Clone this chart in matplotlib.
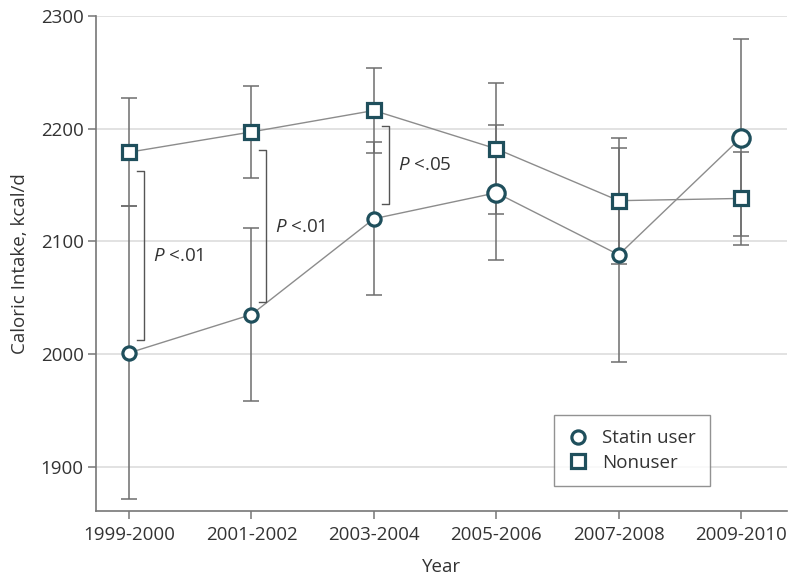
import matplotlib
matplotlib.use("Agg")
import matplotlib.pyplot as plt
import numpy as np

plt.rcParams['font.family'] = ['Open Sans', 'DejaVu Sans']
plt.rcParams['mathtext.fontset'] = 'custom'
plt.rcParams['mathtext.it'] = 'Open Sans:italic'
plt.rcParams['mathtext.rm'] = 'Open Sans'

years = ["1999-2000", "2001-2002", "2003-2004", "2005-2006", "2007-2008", "2009-2010"]
statin = [2001, 2035, 2120, 2143, 2088, 2192]
statin_err = [130, 77, 68, 60, 95, 87]
nonuser = [2179, 2197, 2216, 2182, 2136, 2138]
nonuser_err = [48, 41, 38, 58, 56, 41]

# P-value brackets: (x index, low, high, label, label y)
brackets_x = [0, 1, 2]
brackets_lo = [2012, 2046, 2133]
brackets_hi = [2162, 2181, 2202]
brackets_lbl = [".01", ".01", ".05"]
brackets_lbl_y = [2087, 2113, 2168]

statin_ms = [9.5, 9.5, 9.5, 12.5, 9.5, 12.5]

teal = "#1f4f5c"
gray = "#6e6e6e"
lgray = "#8c8c8c"
tcol = "#333333"

fig = plt.figure(figsize=(8, 5.85), dpi=100)
ax = fig.add_axes([0.12, 0.127, 0.864, 0.846])

x = np.arange(len(years))

ax.errorbar(x, nonuser, yerr=nonuser_err, fmt='none', ecolor=gray, elinewidth=1.1,
            capsize=6, capthick=1.1, zorder=2)
ax.errorbar(x, statin, yerr=statin_err, fmt='none', ecolor=gray, elinewidth=1.1,
            capsize=6, capthick=1.1, zorder=2)
ax.plot(x, nonuser, color=lgray, lw=1, zorder=3)
ax.plot(x, statin, color=lgray, lw=1, zorder=3)
ax.plot(x, nonuser, ls='none', marker='s', ms=9.5, mfc='white', mec=teal, mew=2.3, zorder=4)
for xi, yi, ms in zip(x, statin, statin_ms):
    ax.plot([xi], [yi], ls='none', marker='o', ms=ms, mfc='white', mec=teal, mew=2.3, zorder=4)

# legend handles
h1, = ax.plot([], [], ls='none', marker='o', ms=9.5, mfc='white', mec=teal, mew=2.3, label='Statin user')
h2, = ax.plot([], [], ls='none', marker='s', ms=9.5, mfc='white', mec=teal, mew=2.3, label='Nonuser')

# brackets
for bx, lo, hi, lbl, ly in zip(brackets_x, brackets_lo, brackets_hi, brackets_lbl, brackets_lbl_y):
    xb = bx + 0.12
    ax.plot([xb - 0.055, xb, xb, xb - 0.055], [hi, hi, lo, lo], color='#555555', lw=1, zorder=3)
    ax.text(xb + 0.075, ly, r"$\mathit{P}$ <" + lbl, fontsize=13.5, color=tcol, va='center', ha='left')

ax.set_xlim(-0.27, 5.376)
ax.set_ylim(1861, 2300)
ax.set_yticks([1900, 2000, 2100, 2200, 2300])
ax.set_xticks(x)
ax.set_xticklabels(years)
ax.yaxis.grid(True, color='#dddddd', lw=1.2)
ax.set_axisbelow(True)
for s in ['top', 'right']:
    ax.spines[s].set_visible(False)
for s in ['left', 'bottom']:
    ax.spines[s].set_color('#777777')
    ax.spines[s].set_linewidth(1.2)
ax.tick_params(axis='both', colors='#777777', labelcolor=tcol, labelsize=13.5, length=6, width=1.1)
ax.tick_params(axis='x', pad=5)
ax.tick_params(axis='y', pad=3)
ax.set_ylabel("Caloric Intake, kcal/d", fontsize=13.5, color=tcol, labelpad=8)
ax.set_xlabel("Year", fontsize=13.5, color=tcol, labelpad=10)

leg = ax.legend(handles=[h1, h2], loc='upper left', bbox_to_anchor=(0.663, 0.193),
                frameon=True, fancybox=False, fontsize=13.5, handlelength=1.0,
                handletextpad=0.8, borderpad=0.75, labelspacing=0.35, borderaxespad=0)
leg.get_frame().set_edgecolor('#777777')
leg.get_frame().set_linewidth(1.0)
for t in leg.get_texts():
    t.set_color(tcol)

fig.savefig("out.png", dpi=100)
